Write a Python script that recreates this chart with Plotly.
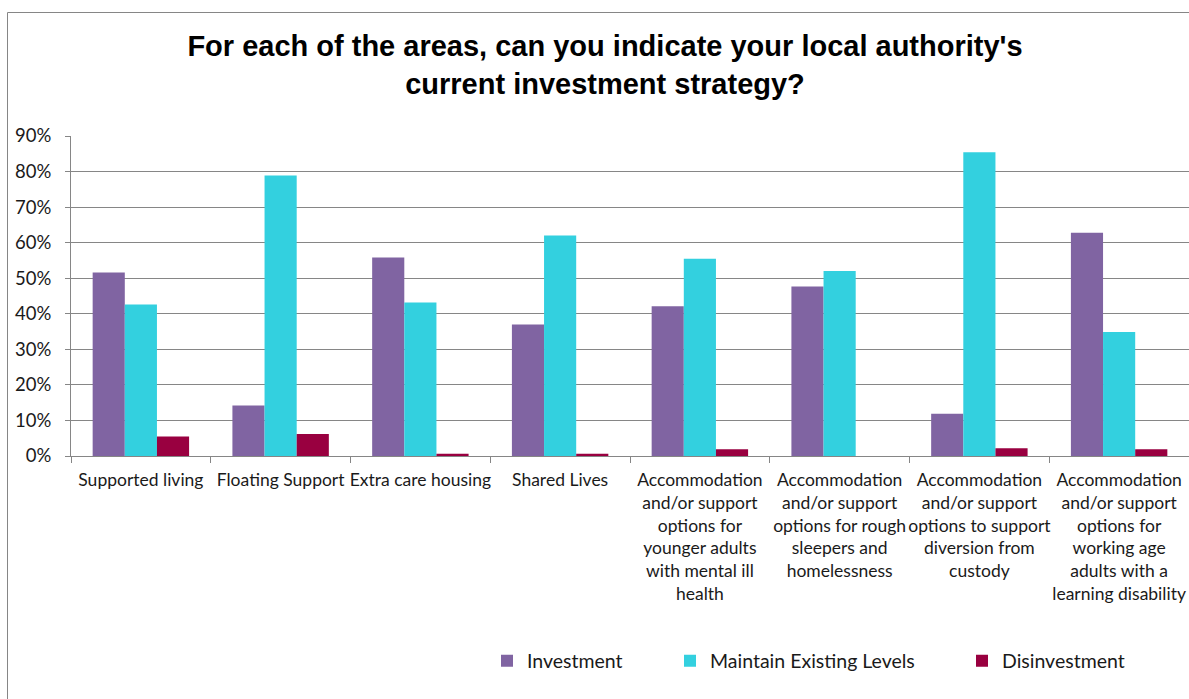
import plotly.graph_objects as go

# Survey areas (x-axis categories)
categories = [
    "Supported living",
    "Floating Support",
    "Extra care housing",
    "Shared Lives",
    "Accommodation<br>and/or support<br>options for<br>younger adults<br>with mental ill<br>health",
    "Accommodation<br>and/or support<br>options for rough<br>sleepers and<br>homelessness",
    "Accommodation<br>and/or support<br>options to support<br>diversion from<br>custody",
    "Accommodation<br>and/or support<br>options for<br>working age<br>adults with a<br>learning disability",
]

# Share of local authorities per strategy (fractions)
investment = [0.516, 0.142, 0.558, 0.370, 0.421, 0.477, 0.119, 0.628]
maintain = [0.426, 0.789, 0.432, 0.620, 0.555, 0.520, 0.854, 0.349]
disinvestment = [0.055, 0.062, 0.006, 0.006, 0.019, 0.0, 0.022, 0.019]

y_ticks = [0, 0.1, 0.2, 0.3, 0.4, 0.5, 0.6, 0.7, 0.8, 0.9]

series = [
    ("Investment", investment, "#8064A2", "legend"),
    ("Maintain Existing Levels", maintain, "#33D0DF", "legend2"),
    ("Disinvestment", disinvestment, "#990040", "legend3"),
]

W, H = 1189, 699
ML, MR, MT, MB = 71, 0, 136, 243
plot_w = W - ML - MR
plot_h = H - MT - MB

fig = go.Figure()
for name, vals, color, leg in series:
    fig.add_trace(go.Bar(
        x=categories, y=vals, name=name,
        marker=dict(color=color, line=dict(width=0)),
        legend=leg,
    ))

tick_font = dict(family="Lato, Open Sans, sans-serif", size=17.5, color="#1a1a1a")
legend_font = dict(family="Lato, Open Sans, sans-serif", size=19.5, color="#1a1a1a")


def px_to_paper_x(px):
    return (px - ML) / plot_w


def px_to_paper_y(py):
    return (H - MB - py) / plot_h


legend_y = px_to_paper_y(661)
common_legend = dict(orientation="h", yanchor="middle", y=legend_y,
                     xanchor="left", font=legend_font,
                     bgcolor="rgba(0,0,0,0)", itemwidth=30)

fig.update_layout(
    width=W, height=H,
    margin=dict(l=ML, r=MR, t=MT, b=MB, pad=0),
    paper_bgcolor="white", plot_bgcolor="white",
    barmode="group", bargap=0.31, bargroupgap=0,
    title=dict(
        text="For each of the areas, can you indicate your local authority's<br>current investment strategy?",
        font=dict(family="Liberation Sans, Arial, sans-serif", size=29, color="black", weight="bold"),
        xref="container", x=605 / W, xanchor="center",
        yref="container", y=1 - 56 / H, yanchor="top",
    ),
    xaxis=dict(
        showline=True, linecolor="#868686", linewidth=1,
        ticks="outside", tickson="boundaries", ticklen=6, tickcolor="#868686",
        tickfont=tick_font, tickangle=0, showgrid=False,
        ticklabelstandoff=8,
    ),
    yaxis=dict(
        range=[0, 0.9], tickvals=y_ticks, tickformat=".0%",
        showline=True, linecolor="#868686", linewidth=1,
        ticks="outside", ticklen=5, tickcolor="#868686",
        showgrid=True, gridcolor="#868686", gridwidth=1,
        tickfont=dict(family="Lato, Open Sans, sans-serif", size=18.5, color="#1a1a1a"),
        ticklabelstandoff=10, zeroline=False,
    ),
    legend=dict(common_legend, x=px_to_paper_x(487)),
    legend2=dict(common_legend, x=px_to_paper_x(670)),
    legend3=dict(common_legend, x=px_to_paper_x(962)),
    showlegend=True,
    shapes=[dict(
        type="rect", xref="paper", yref="paper",
        x0=px_to_paper_x(7.5), x1=px_to_paper_x(W + 20),
        y0=px_to_paper_y(H + 20), y1=px_to_paper_y(12.5),
        line=dict(color="#868686", width=1), fillcolor="rgba(0,0,0,0)",
        layer="below",
    )],
)

fig.write_html("out.html")
